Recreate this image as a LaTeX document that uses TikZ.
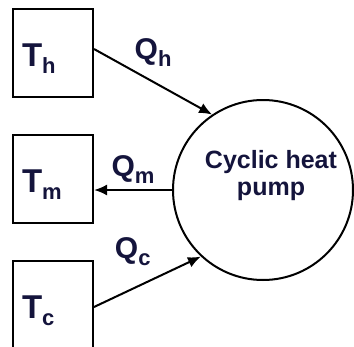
\documentclass[tikz,border=0pt]{standalone}
\usepackage{fontspec}
\setmainfont{Liberation Sans}
\usepackage{xcolor}
\usepackage{tikz}
\usetikzlibrary{arrows.meta,positioning,shapes.geometric}
\definecolor{tinta}{RGB}{20,20,60}
\newcommand{\indice}[1]{\raisebox{-7pt}{\fontsize{22}{22}\selectfont #1}}
\tikzset{
    reservatorio/.style={
        rectangle,
        draw,
        line width=2pt,
        minimum width=80pt,
        minimum height=88pt,
        text width=62pt,
        inner xsep=9pt,
        align=left,
        text height=30pt,
        text depth=3pt,
        text=tinta,
        font=\fontsize{33}{36}\selectfont\bfseries
    },
    bomba/.style={circle, draw, line width=2pt, minimum size=180pt, inner sep=0pt},
    rotulo/.style={text=tinta, font=\fontsize{30}{34}\selectfont\bfseries},
    fluxo/.style={-{Latex[length=13pt, width=11pt]}, line width=2pt}
}

\begin{document}
\begin{tikzpicture}[x=1pt, y=-1pt, node distance=36pt]
        \useasboundingbox (0,0) rectangle (354,346);
        \node[reservatorio] (Th) at (53,53)
            {T\indice{h}};
        \node[reservatorio, below=of Th] (Tm)
            {T\indice{m}};
        \node[reservatorio, below=of Tm] (Tc)
            {T\indice{c}};
        \node[bomba, label={[rotulo, font=\fontsize{25}{27}\selectfont\bfseries, align=center, xshift=8pt, yshift=14pt]center:Cyclic heat\\pump}] (pump) at (263,190)
            {};
        \draw[fluxo] ([yshift=4pt]Th.east) -- (pump.124)
            node[rotulo, midway, above=11pt] (Qh) {Q\indice{h}};
        \draw[fluxo] (pump.west) -- (pump.west -| Tm.east)
            node[rotulo, midway, above=2pt] (Qm) {Q\indice{m}};
        \draw[fluxo] ([yshift=-2pt]Tc.east) -- (pump.227)
            node[rotulo, pos=0.4, above=17pt, xshift=-4pt] (Qc) {Q\indice{c}};
    \end{tikzpicture}
\end{document}
